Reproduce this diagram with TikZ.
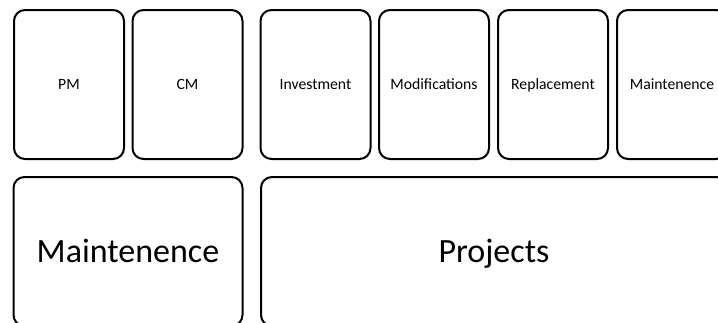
\documentclass[tikz,border=0pt]{standalone}
\usepackage{fontspec}
\setmainfont{Carlito}
\begin{document}
\begin{tikzpicture}[x=1pt,y=-1pt]
      \tikzstyle{card}=[draw,line width=2pt,rounded corners=11pt,inner sep=0pt,text height=10pt,text depth=0pt,font=\fontsize{15.7}{18}\selectfont]
      \tikzstyle{bigcard}=[card,text height=22pt,font=\fontsize{34}{40}\selectfont]
      \useasboundingbox (0,0) rectangle (718,322);
      \clip (0,0) rectangle (718,322);
      \node[card,minimum width=110pt,minimum height=149pt] (PM) at (69,84.5) {PM};
      \node[card,minimum width=110pt,minimum height=149pt] (CM) at (187.5,84.5) {CM};
      \node[card,minimum width=110pt,minimum height=149pt] (Inv) at (315.5,84.5) {Investment};
      \node[card,minimum width=110pt,minimum height=149pt] (Mod) at (434,84.5) {Modifications};
      \node[card,minimum width=110pt,minimum height=149pt] (Repl) at (553,84.5) {Replacement};
      \node[card,minimum width=110pt,minimum height=149pt] (MaintP) at (672,84.5) {Maintenence};
      \node[bigcard,minimum width=229pt,minimum height=149pt] (Maint) at (128,251.5) {Maintenence};
      \node[bigcard,minimum width=466pt,minimum height=149pt] (Proj) at (494,251.5) {Projects};
    \end{tikzpicture}
\end{document}
